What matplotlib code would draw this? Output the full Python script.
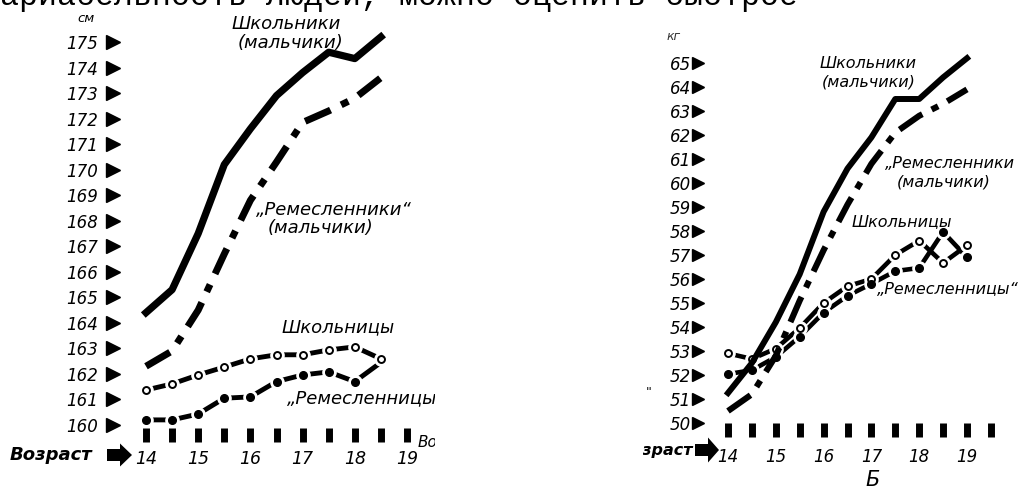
import matplotlib
matplotlib.use("Agg")
import matplotlib.pyplot as plt
from matplotlib.patches import FancyArrow
from matplotlib.transforms import Bbox, TransformedBbox

# --- рост, см (левый график)
ages_h = [14, 14.5, 15, 15.5, 16, 16.5, 17, 17.5, 18, 18.5]
boys_school_h = [164.4, 165.3, 167.5, 170.2, 171.6, 172.9, 173.8, 174.6, 174.35, 175.2]
boys_craft_h = [162.3, 162.9, 164.5, 166.7, 168.8, 170.3, 171.85, 172.3, 172.8, 173.6]
girls_school_h = [161.37, 161.61, 161.96, 162.27, 162.59, 162.75, 162.75, 162.94, 163.06, 162.59]
girls_craft_h = [160.2, 160.2, 160.43, 161.05, 161.1, 161.7, 161.96, 162.08, 161.7, 162.45]
height_ticks = list(range(160, 176))
half_years_h = [14.5, 15.5, 16.5, 17.5, 18.5]

# --- вес, кг (правый график)
ages_w = [14, 14.5, 15, 15.5, 16, 16.5, 17, 17.5, 18, 18.5, 19]
boys_school_w = [51.25, 52.5, 54.2, 56.2, 58.8, 60.6, 61.9, 63.5, 63.5, 64.4, 65.2]
boys_craft_w = [50.5, 51.2, 52.8, 55.1, 57.2, 59.1, 60.8, 62.1, 62.8, 63.3, 63.9]
girls_school_w = [52.9, 52.67, 53.1, 53.96, 55.0, 55.7, 56.0, 57.0, 57.6, 56.67, 57.4]
girls_craft_w = [52.04, 52.2, 52.75, 53.6, 54.6, 55.3, 55.8, 56.33, 56.46, 57.96, 56.9]
weight_ticks = list(range(50, 66))
half_years_w = [14.5, 15.5, 16.5, 17.5, 18.5, 19.5]

years = [14, 15, 16, 17, 18, 19]

W, H = 1028, 492
plt.rcParams['font.family'] = ['DejaVu Sans']

fig = plt.figure(figsize=(W / 100, H / 100), dpi=100)
fig.patch.set_facecolor('white')


def px_axes(x0, x1, y0, y1):
    # pixel box, origin top-left
    ax = fig.add_axes([x0 / W, 1 - y1 / H, (x1 - x0) / W, (y1 - y0) / H])
    ax.set_facecolor('none')
    for s in ax.spines.values():
        s.set_visible(False)
    return ax


def lim(p0, p1, v0, v1, a, b):
    k = (v1 - v0) / (p1 - p0)
    return v0 + (a - p0) * k, v0 + (b - p0) * k


def ftext(x, y, s, clip=None, **kw):
    t = fig.text(x / W, 1 - y / H, s, **kw)
    if clip is not None:
        t.set_clip_box(clip)
        t.set_clip_on(True)
    return t


def arrow(x0, x1, yc, body, head, hlen):
    a = FancyArrow(x0 / W, 1 - yc / H, (x1 - x0) / W, 0, width=body / H,
                   head_width=head / H, head_length=hlen / W,
                   length_includes_head=True, transform=fig.transFigure,
                   color='k', lw=0)
    fig.add_artist(a)


def draw_girls(ax, x, y_open, y_full, lw, ms, full_every=None):
    ax.plot(x, y_open, color='k', lw=lw, zorder=2)
    ax.plot(x, y_full, color='k', lw=lw, zorder=2)
    ax.plot(x, y_open, 'o', ms=ms * 1.9, mfc='white', mec='white', zorder=3)
    ax.plot(x, y_full, 'o', ms=ms * 1.9, mfc='white', mec='white', zorder=3,
            markevery=full_every)
    ax.plot(x, y_open, 'o', ms=ms, mfc='white', mec='k', mew=1.4, zorder=4)
    ax.plot(x, y_full, 'o', ms=ms + 0.5, color='k', zorder=4,
            markevery=full_every)


def setup_axis(ax, yticks, half, ysize, ypad, xsize, xpad, tri):
    ax.set_yticks(yticks)
    ax.set_yticklabels([str(v) for v in yticks], fontsize=ysize, style='italic')
    ax.tick_params(axis='y', length=0, pad=ypad)
    ax.set_xticks(years)
    ax.set_xticklabels([str(v) for v in years], fontsize=xsize, style='italic')
    ax.set_xticks(half, minor=True)
    ax.tick_params(axis='x', which='both', direction='in', length=10, width=5,
                   color='k', pad=xpad)
    ax.plot([0] * len(yticks), yticks, '>', color='k', ms=tri, ls='none',
            transform=ax.get_yaxis_transform(), clip_on=False)


clip_left = TransformedBbox(Bbox.from_extents(0, 0, 435 / W, 1), fig.transFigure)
clip_right = TransformedBbox(Bbox.from_extents(643 / W, 0, 1, 1), fig.transFigure)

# ---------- левый: рост
axL = px_axes(113, 435, 15, 442)
axL.set_xlim(*lim(146, 407, 14, 19, 113, 435))
axL.set_ylim(*lim(425, 42, 160, 175, 442, 15))
setup_axis(axL, height_ticks, half_years_h, 12, 11, 12.5, 6, 9.5)

draw_girls(axL, ages_h, girls_school_h, girls_craft_h, 3.5, 5,
           full_every=slice(0, len(ages_h) - 1))
axL.plot(ages_h, boys_craft_h, color='k', lw=5, dashes=(4, 1.7, 1.15, 1.7),
         dash_capstyle='butt', zorder=5)
axL.plot(ages_h, boys_school_h, color='k', lw=5.2, solid_joinstyle='round',
         zorder=5)

lab = dict(style='italic', fontsize=13, va='center')
ftext(286, 24, 'Школьники', ha='center', **lab)
ftext(290, 43, '(мальчики)', ha='center', **lab)
ftext(256, 210, '„Ремесленники“', ha='left', **lab)
ftext(268, 228, '(мальчики)', ha='left', **lab)
ftext(282, 327, 'Школьницы', ha='left', **lab)
ftext(287, 398, '„Ремесленницы“', ha='left', clip=clip_left, **lab)
ftext(86, 19, 'см', ha='center', va='center', style='italic', fontsize=9.5)
ftext(10, 455, 'Возраст', ha='left', va='center', style='italic',
      fontsize=13, fontweight='bold')
arrow(107, 132, 455, 12, 23, 12)
ftext(418, 443, 'Возраст', ha='left', va='center', style='italic',
      fontsize=11, clip=clip_left)

# ---------- правый: вес
axR = px_axes(698, 1028, 15, 437)
axR.set_xlim(*lim(728, 967, 14, 19, 698, 1028))
axR.set_ylim(*lim(423, 63, 50, 65, 437, 15))
setup_axis(axR, weight_ticks, half_years_w, 12, 5, 12, 8, 9)

draw_girls(axR, ages_w, girls_school_w, girls_craft_w, 3.3, 5)
axR.plot(ages_w, boys_craft_w, color='k', lw=4.4, dashes=(4.5, 1.7, 1.2, 1.7),
         dash_capstyle='butt', zorder=5)
axR.plot(ages_w, boys_school_w, color='k', lw=4.3, solid_joinstyle='round',
         zorder=5)

labr = dict(style='italic', fontsize=11.5, va='center')
ftext(820, 63, 'Школьники', ha='left', **labr)
ftext(822, 82, '(мальчики)', ha='left', **labr)
ftext(885, 163, '„Ремесленники', ha='left', **labr)
ftext(897, 182, '(мальчики)', ha='left', **labr)
ftext(852, 222, 'Школьницы', ha='left', **labr)
ftext(877, 290, '„Ремесленницы“', ha='left', **labr)
ftext(674, 37, 'кг', ha='center', va='center', style='italic', fontsize=9,
      color='#333333')
ftext(693, 451, 'Возраст', ha='right', va='center', style='italic',
      fontsize=11.5, fontweight='bold', clip=clip_right)
arrow(695, 719, 450, 12, 25, 11)
ftext(649, 393, '"', ha='center', va='center', fontsize=9)
ftext(873, 480, 'Б', ha='center', va='center', style='italic', fontsize=15)

# обрезанная строка текста сверху
ftext(-19, 5.5, 'вариабельность людей, можно оценить быстрое', ha='left',
      va='baseline', family='Liberation Mono', fontsize=22.8)

fig.savefig('out.png', dpi=100, facecolor='white')
